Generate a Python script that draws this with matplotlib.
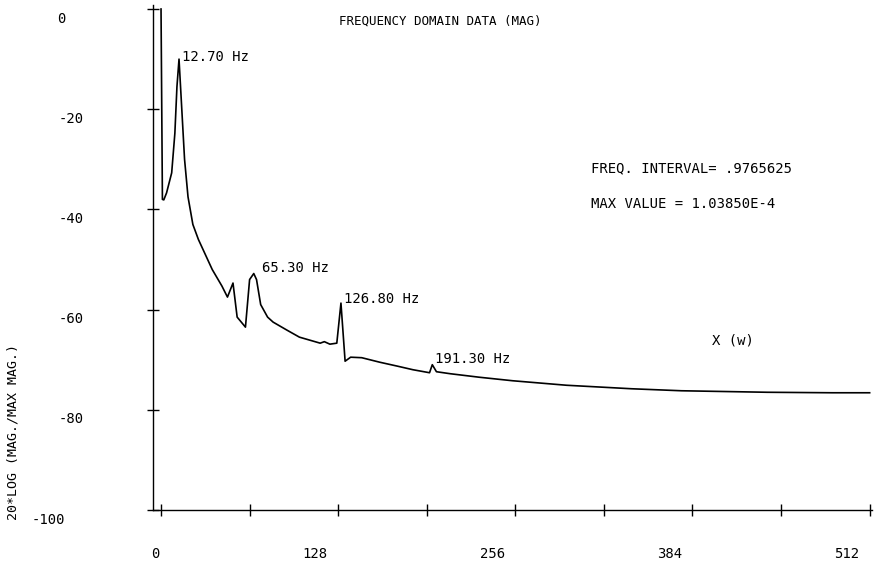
"""Frequency domain magnitude plot (plotter-style recreation)."""

import matplotlib

matplotlib.use("Agg")
import matplotlib.pyplot as plt
import matplotlib.transforms as mtransforms

# spectrum: bin index vs 20*log10(mag / max mag)
freq_bins = [0, 1, 2, 4, 7.7, 10, 11.5, 13, 15, 17, 19.5, 23, 27, 32, 37, 44,
             48, 52, 55, 61, 64, 67, 69, 72, 77, 81, 91, 100, 115, 118, 122,
             127, 130, 133, 137, 145, 158, 171, 182, 194, 196, 199, 209, 230,
             254, 293, 340, 376, 438, 485, 512]
magnitude_db = [0, -38, -38.1, -36.7, -32.7, -24.8, -15.5, -10, -20, -30, -37.5,
                -43, -46, -49, -52, -55.3, -57.5, -54.7, -61.5, -63.5, -54, -52.8,
                -54, -59, -61.5, -62.5, -64.1, -65.5, -66.7, -66.4, -66.9, -66.7,
                -58.7, -70.3, -69.5, -69.6, -70.5, -71.3, -72, -72.6, -71, -72.4,
                -72.8, -73.5, -74.2, -75.1, -75.8, -76.2, -76.5, -76.6, -76.6]

peak_bins = [13, 67, 130, 196]
peak_labels = ["12.70 Hz", "65.30 Hz", "126.80 Hz", "191.30 Hz"]

x_ticks_major = [0, 128, 256, 384, 512]
x_ticks_minor = [64, 192, 320, 448]
y_ticks = [0, -20, -40, -60, -80, -100]

MONO = "DejaVu Sans Mono"
W, H = 878, 561


def px_offset(dx, dy):
    return mtransforms.ScaledTranslation(dx / 100, dy / 100, fig.dpi_scale_trans)


fig = plt.figure(figsize=(W / 100, H / 100), dpi=100)
ax = fig.add_axes([153 / W, 51 / H, (872 - 153) / W, (556 - 51) / H])

ax.plot(freq_bins, magnitude_db, color="black", linewidth=1.2)

for b, lab, (dx, dy) in zip(peak_bins, peak_labels, [(3, 2), (8, 6), (3, 4), (3, 6)]):
    yv = magnitude_db[freq_bins.index(b)]
    ax.annotate(lab, (b, yv), xytext=(dx * 0.72, dy * 0.72), textcoords="offset points",
                ha="left", va="center", fontsize=10, family=MONO)

ax.set_xlim(-5.8, 513.7)
ax.set_ylim(-100, 0.8)
for side in ["top", "right"]:
    ax.spines[side].set_visible(False)
for side in ["left", "bottom"]:
    ax.spines[side].set_linewidth(1.0)

ax.set_xticks(x_ticks_major)
ax.set_xticklabels([str(v) for v in x_ticks_major], family=MONO, fontsize=10)
ax.set_xticks(x_ticks_minor, minor=True)
ax.set_yticks(y_ticks)
ax.set_yticklabels([str(v) for v in y_ticks], family=MONO, fontsize=10)

ax.tick_params(axis="both", which="both", direction="inout", length=9, width=1.0)
ax.tick_params(axis="x", which="major", pad=22)
ax.tick_params(axis="y", which="major", pad=45)

for lab, v in zip(ax.get_xticklabels(), x_ticks_major):
    lab.set_transform(lab.get_transform() + px_offset(-6 if v == 0 else -23, 0))
for lab, v in zip(ax.get_yticklabels(), y_ticks):
    dx = -19 if v in (0, -100) else 0
    lab.set_transform(lab.get_transform() + px_offset(dx, -8))

fig.text(339 / W, 1 - 21 / H, "FREQUENCY DOMAIN DATA (MAG)", family=MONO,
         fontsize=9, ha="left", va="center")
fig.text(591 / W, 1 - 168 / H, "FREQ. INTERVAL= .9765625", family=MONO,
         fontsize=10, ha="left", va="center")
fig.text(591 / W, 1 - 204 / H, "MAX VALUE = 1.03850E-4", family=MONO,
         fontsize=10, ha="left", va="center")
fig.text(712 / W, 1 - 340 / H, "X (w)", family=MONO,
         fontsize=10, ha="left", va="center")
fig.text(13 / W, 1 - 432 / H, "20*LOG (MAG./MAX MAG.)", family=MONO,
         fontsize=9.5, rotation=90, ha="center", va="center")

fig.savefig("out.png", dpi=100)
